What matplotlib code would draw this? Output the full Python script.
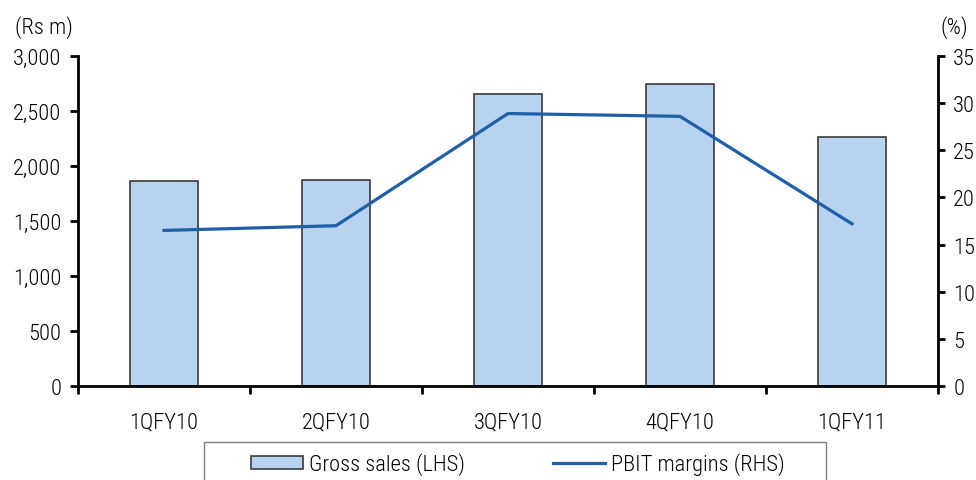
import matplotlib
matplotlib.use("Agg")
import matplotlib.pyplot as plt
from matplotlib import font_manager
from matplotlib.patches import Rectangle, Patch
from matplotlib.lines import Line2D
from matplotlib.ticker import FuncFormatter, MultipleLocator, FixedLocator
import numpy as np

quarters = ["1QFY10", "2QFY10", "3QFY10", "4QFY10", "1QFY11"]
gross_sales = [1860, 1870, 2655, 2750, 2260]          # Rs m, left axis
pbit_margin = [16.5, 17.0, 28.9, 28.6, 17.2]          # %, right axis
legend_labels = ["Gross sales (LHS)", "PBIT margins (RHS)"]


def pick_font():
    """Prefer a narrow sans face; fall back to a regular one at a smaller size."""
    options = [("Liberation Sans Narrow", "normal", "normal", 15, "Narrow"),
               ("Roboto Condensed", "normal", "light", 16.2, "Condensed"),
               ("DejaVu Sans", "condensed", "normal", 13, "Condensed")]
    for fam, stretch, weight, size, tag in options:
        try:
            path = font_manager.findfont(
                font_manager.FontProperties(family=fam, stretch=stretch),
                fallback_to_default=False)
        except ValueError:
            continue
        if tag.lower() in path.lower().replace("_", ""):
            return fam, stretch, weight, size
    return "Liberation Sans", "normal", "normal", 13.5


FAMILY, STRETCH, WEIGHT, FS = pick_font()
plt.rcParams['font.family'] = [FAMILY, 'DejaVu Sans']
plt.rcParams['font.stretch'] = STRETCH
plt.rcParams['font.weight'] = WEIGHT
PX_PER_EM = FS * 100 / 72

BAR_FILL = "#B7D3F0"
BAR_EDGE = "#3a3a3a"
LINE_COL = "#1F5FA8"

fig = plt.figure(figsize=(9.76, 4.81), dpi=100)
ax = fig.add_axes([78/976, 94/481, 860/976, 330/481])
ax2 = ax.twinx()

x = np.arange(len(quarters))
ax.bar(x, gross_sales, width=0.4, color=BAR_FILL, edgecolor=BAR_EDGE, linewidth=1.2, zorder=2)
ax2.plot(x, pbit_margin, color=LINE_COL, linewidth=2.3, solid_joinstyle='miter', zorder=3)

ax.set_xlim(-0.5, len(quarters) - 0.5)
ax.set_ylim(0, 3000)
ax2.set_ylim(0, 35)

ax.yaxis.set_major_locator(MultipleLocator(500))
ax.yaxis.set_major_formatter(FuncFormatter(lambda v, p: f"{int(v):,}"))
ax2.yaxis.set_major_locator(MultipleLocator(5))

# category labels at centres, tick marks on category boundaries
ax.set_xticks(x)
ax.set_xticklabels(quarters)
ax.xaxis.set_minor_locator(FixedLocator(np.arange(-0.5, len(quarters), 1.0)))
ax.tick_params(axis='x', which='major', length=0, pad=18, labelsize=FS)
ax.tick_params(axis='x', which='minor', length=6, width=2, direction='out', color='black')

ax.tick_params(axis='y', length=6, width=2, direction='out', pad=6, labelsize=FS)
ax2.tick_params(axis='y', length=5, width=2, direction='out', pad=6, labelsize=FS)

for a in (ax, ax2):
    a.spines['top'].set_visible(False)
    for s in ('left', 'right', 'bottom'):
        a.spines[s].set_linewidth(2)
        a.spines[s].set_color('black')
ax.spines['right'].set_visible(False)
ax2.spines['left'].set_visible(False)
ax2.spines['bottom'].set_visible(False)

ax.set_zorder(1)
ax2.set_zorder(2)
ax2.patch.set_visible(False)

fig.text(44/976, 1 - 28/481, "(Rs m)", ha='center', va='center', fontsize=FS)
fig.text(954/976, 1 - 28/481, "(%)", ha='center', va='center', fontsize=FS)

# legend with its own frame, running off the bottom edge
frame = Rectangle((204/976, -9/481), 622/976, 47/481, transform=fig.transFigure,
                  facecolor='none', edgecolor='#7f7f7f', linewidth=1, clip_on=False)
fig.add_artist(frame)
handles = [Patch(facecolor=BAR_FILL, edgecolor=BAR_EDGE, linewidth=1.2),
           Line2D([0], [0], color=LINE_COL, linewidth=2.3)]

# measure the first entry so the second one starts at a fixed spot
fig.canvas.draw()
renderer = fig.canvas.get_renderer()
probe = fig.text(0, 0, legend_labels[0], fontsize=FS)
text_w = probe.get_window_extent(renderer).width
probe.remove()
first_end = 251 + 52 + 0.25 * PX_PER_EM + text_w
col_space = max(0.5, (553 - first_end) / PX_PER_EM)

fig.legend(handles, legend_labels, ncol=2,
           loc='center left', bbox_to_anchor=(251/976, 16/481), frameon=False,
           borderpad=0, borderaxespad=0, handlelength=52/PX_PER_EM,
           handleheight=0.55, handletextpad=0.25,
           columnspacing=col_space, fontsize=FS)

fig.savefig("out.png", dpi=100)
